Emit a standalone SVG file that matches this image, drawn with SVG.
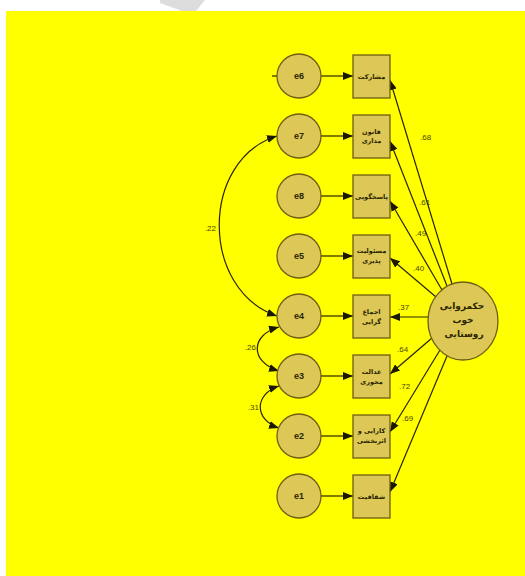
<svg xmlns="http://www.w3.org/2000/svg" width="525" height="576" viewBox="0 0 525 576">
<style>
.nd{fill:#DCC757;stroke:#6E5F14;stroke-width:1.3}
.ln{fill:none;stroke:#2a2500;stroke-width:1.2}
.el{font-family:"Liberation Sans","DejaVu Sans",sans-serif;font-size:9px;font-weight:bold;fill:#2a2500;text-anchor:middle}
.bx{font-family:"DejaVu Sans",sans-serif;font-size:6.5px;font-weight:bold;fill:#2a2500;text-anchor:middle}
.lv{font-family:"DejaVu Sans",sans-serif;font-size:9px;font-weight:bold;fill:#2a2500;text-anchor:middle}
.lb{font-family:"Liberation Sans",sans-serif;font-size:8px;fill:#4a4400}
</style>
<defs>
<marker id="ah" viewBox="0 0 10 8" refX="10" refY="4" markerWidth="10" markerHeight="8" markerUnits="userSpaceOnUse" orient="auto-start-reverse">
<path d="M0,0 L10,4 L0,8 z" fill="#1a1800"/>
</marker>
</defs>
<rect x="0" y="0" width="525" height="576" fill="#ffffff"/>
<polygon points="160,0 205,0 196,11 182,11 160,3" fill="#dddddd"/>
<rect x="6" y="11" width="519" height="565" fill="#FFFF00"/>
<g id="connectors">
<line class="ln" x1="272" y1="76" x2="277" y2="76"/>
<line class="ln" x1="321" y1="76" x2="353" y2="76" marker-end="url(#ah)"/>
<line class="ln" x1="321" y1="136" x2="353" y2="136" marker-end="url(#ah)"/>
<line class="ln" x1="321" y1="196" x2="353" y2="196" marker-end="url(#ah)"/>
<line class="ln" x1="321" y1="256" x2="353" y2="256" marker-end="url(#ah)"/>
<line class="ln" x1="321" y1="316" x2="353" y2="316" marker-end="url(#ah)"/>
<line class="ln" x1="321" y1="376" x2="353" y2="376" marker-end="url(#ah)"/>
<line class="ln" x1="321" y1="436" x2="353" y2="436" marker-end="url(#ah)"/>
<line class="ln" x1="321" y1="496" x2="353" y2="496" marker-end="url(#ah)"/>
<line class="ln" x1="452" y1="284" x2="390" y2="80" marker-end="url(#ah)"/>
<line class="ln" x1="447" y1="286" x2="390" y2="141" marker-end="url(#ah)"/>
<line class="ln" x1="442" y1="290" x2="390" y2="201" marker-end="url(#ah)"/>
<line class="ln" x1="436" y1="297" x2="390" y2="258" marker-end="url(#ah)"/>
<line class="ln" x1="428" y1="317" x2="390" y2="317" marker-end="url(#ah)"/>
<line class="ln" x1="432" y1="338" x2="390" y2="374" marker-end="url(#ah)"/>
<line class="ln" x1="440" y1="350" x2="390" y2="432" marker-end="url(#ah)"/>
<line class="ln" x1="447" y1="356" x2="390" y2="492" marker-end="url(#ah)"/>
<path class="ln" d="M277,136 C200,160 200,290 277,316" marker-start="url(#ah)" marker-end="url(#ah)"/>
<path class="ln" d="M279,327 C250,335 250,362 279,371" marker-start="url(#ah)" marker-end="url(#ah)"/>
<path class="ln" d="M279,386 C254,394 254,420 279,428" marker-start="url(#ah)" marker-end="url(#ah)"/>
<text class="lb" x="420" y="140">.68</text>
<text class="lb" x="419" y="205">.61</text>
<text class="lb" x="415" y="236">.49</text>
<text class="lb" x="413" y="271">.40</text>
<text class="lb" x="398" y="310">.37</text>
<text class="lb" x="397" y="352">.64</text>
<text class="lb" x="399" y="389">.72</text>
<text class="lb" x="402" y="421">.69</text>
<text class="lb" x="216" y="231" text-anchor="end">.22</text>
<text class="lb" x="256" y="350" text-anchor="end">.26</text>
<text class="lb" x="259" y="410" text-anchor="end">.31</text>
</g>
<g id="e6"><circle class="nd" cx="299" cy="76" r="22"/><text class="el" x="299" y="79">e6</text></g>
<g id="e7"><circle class="nd" cx="299" cy="136" r="22"/><text class="el" x="299" y="139">e7</text></g>
<g id="e8"><circle class="nd" cx="299" cy="196" r="22"/><text class="el" x="299" y="199">e8</text></g>
<g id="e5"><circle class="nd" cx="299" cy="256" r="22"/><text class="el" x="299" y="259">e5</text></g>
<g id="e4"><circle class="nd" cx="299" cy="316" r="22"/><text class="el" x="299" y="319">e4</text></g>
<g id="e3"><circle class="nd" cx="299" cy="376" r="22"/><text class="el" x="299" y="379">e3</text></g>
<g id="e2"><circle class="nd" cx="299" cy="436" r="22"/><text class="el" x="299" y="439">e2</text></g>
<g id="e1"><circle class="nd" cx="299" cy="496" r="22"/><text class="el" x="299" y="499">e1</text></g>
<g id="v6"><rect class="nd" x="353" y="55" width="37" height="43"/><text class="bx" x="371.5" y="79">مشارکت</text></g>
<g id="v7"><rect class="nd" x="353" y="115" width="37" height="43"/><text class="bx" x="371.5" y="134">قانون</text><text class="bx" x="371.5" y="143">مداری</text></g>
<g id="v8"><rect class="nd" x="353" y="175" width="37" height="43"/><text class="bx" x="371.5" y="199">پاسخگویی</text></g>
<g id="v5"><rect class="nd" x="353" y="235" width="37" height="43"/><text class="bx" x="371.5" y="253">مسئولیت</text><text class="bx" x="371.5" y="263">پذیری</text></g>
<g id="v4"><rect class="nd" x="353" y="295" width="37" height="43"/><text class="bx" x="371.5" y="314">اجماع</text><text class="bx" x="371.5" y="324">گرایی</text></g>
<g id="v3"><rect class="nd" x="353" y="355" width="37" height="43"/><text class="bx" x="371.5" y="374">عدالت</text><text class="bx" x="371.5" y="384">محوری</text></g>
<g id="v2"><rect class="nd" x="353" y="415" width="37" height="43"/><text class="bx" x="371.5" y="433">کارایی و</text><text class="bx" x="371.5" y="443">اثربخشی</text></g>
<g id="v1"><rect class="nd" x="353" y="475" width="37" height="43"/><text class="bx" x="371.5" y="499">شفافیت</text></g>
<g id="gov"><ellipse class="nd" cx="463" cy="321" rx="35" ry="39"/><text class="lv" x="462" y="309">حکمروایی</text><text class="lv" x="463" y="323">خوب</text><text class="lv" x="464" y="337">روستایی</text></g>
</svg>
